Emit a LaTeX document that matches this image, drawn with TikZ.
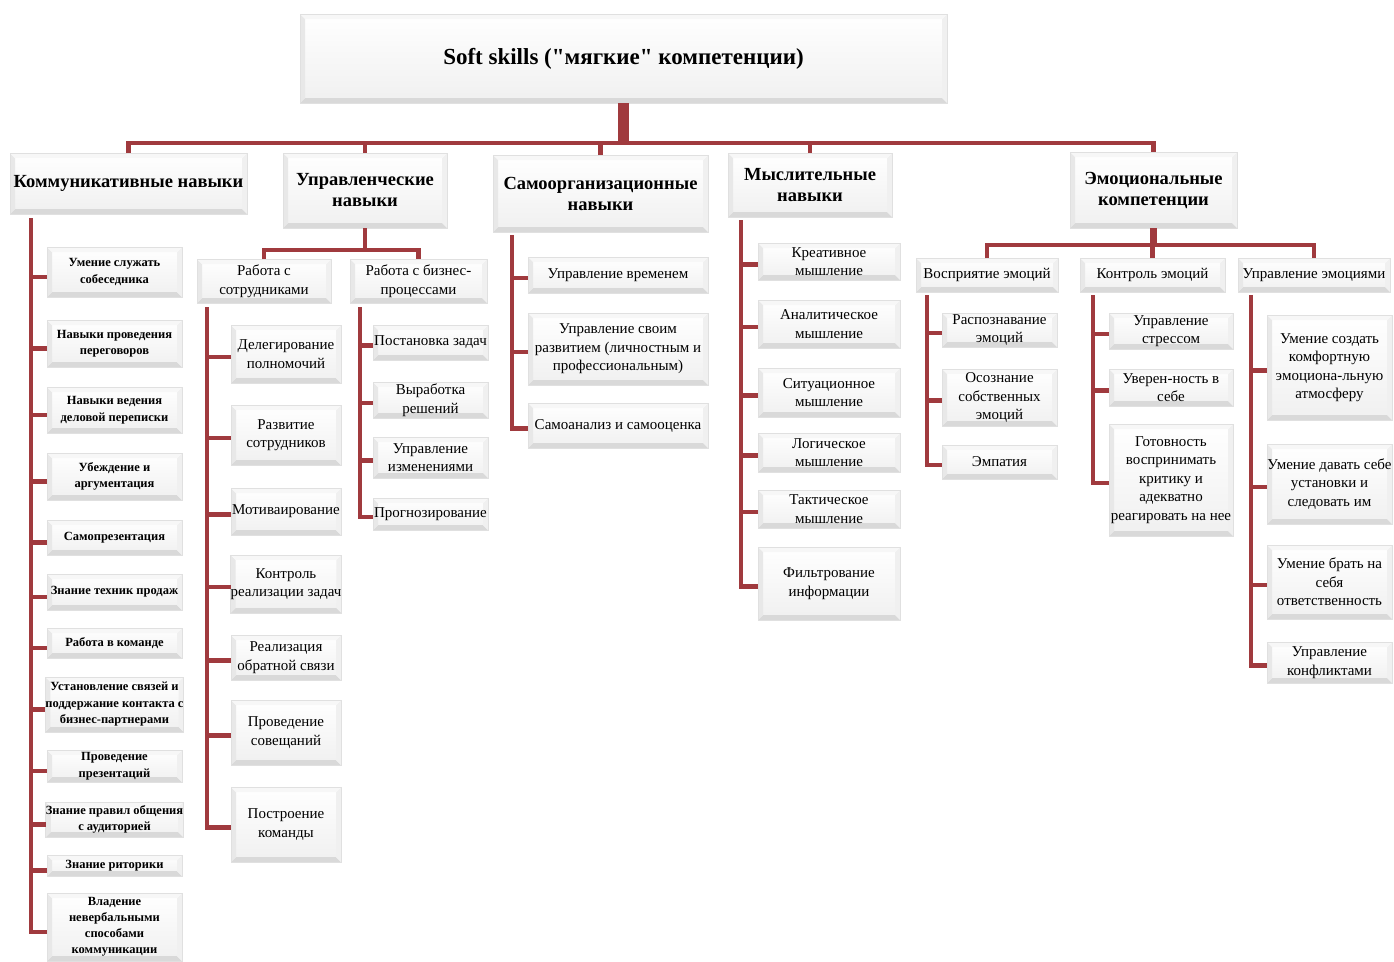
\documentclass[tikz,border=0pt]{standalone}
\usepackage{fontspec}
\setmainfont{Liberation Serif}
\usetikzlibrary{positioning}
\definecolor{bordo}{RGB}{160,58,62}
\tikzset{>=stealth}

\tikzset{
  bevel/.style={
    draw=black!12, line width=1pt,
    top color=white, bottom color=black!6,
    inner sep=0pt, outer sep=0pt, align=center,
    path picture={
      \path (path picture bounding box.south west) coordinate (bsw)
            (path picture bounding box.north east) coordinate (bne)
            (path picture bounding box.north west) coordinate (bnw)
            (path picture bounding box.south east) coordinate (bse);
      \fill[black!15] (bsw) -- (bse) -- ++(-5pt,5pt) -- ([shift={(5pt,5pt)}]bsw) -- cycle;
      \fill[black!9] (bsw) -- (bnw) -- ++(5pt,-5pt) -- ([shift={(5pt,5pt)}]bsw) -- cycle;
      \fill[black!6] (bse) -- (bne) -- ++(-5pt,-5pt) -- ([shift={(-5pt,5pt)}]bse) -- cycle;
      \fill[black!3] (bnw) -- (bne) -- ++(-5pt,-5pt) -- ([shift={(5pt,-5pt)}]bnw) -- cycle;
    }
  },
  boxsize/.style 2 args={minimum width=#1pt, minimum height=#2pt},
  titlebox/.style={bevel, font=\fontsize{23}{27}\selectfont\bfseries},
  groupbox/.style={bevel, font=\fontsize{18.5}{21}\selectfont\bfseries},
  subbox/.style={bevel, font=\fontsize{15}{18.5}\selectfont},
  commbox/.style={bevel, font=\fontsize{12.5}{16.5}\selectfont\bfseries},
  link/.style={draw=bordo, line width=4.5pt},
  trunk/.style={draw=bordo, line width=11pt}
}

\begin{document}
\begin{tikzpicture}[x=1pt, y=-1pt]
  \useasboundingbox (0,0) rectangle (1394,961);

  % top level
  \node [titlebox, boxsize={647}{89}] (title) at (623.5,58.5)
    {Soft skills (\textquotedbl мягкие\textquotedbl{} компетенции)};

  \node [groupbox, boxsize={237}{61}] (comm) at (128.5,183.5) {Коммуникативные навыки};
  \node [groupbox, boxsize={164}{75}] (manag) at (365,190.5) {Управленческие\\навыки};
  \node [groupbox, boxsize={215}{77}] (selforg) at (600.5,193.5) {Самоорганизационные\\навыки};
  \node [groupbox, boxsize={164}{64}] (think) at (810,185) {Мыслительные\\навыки};
  \node [groupbox, boxsize={167}{76}] (emo) at (1153.5,190) {Эмоциональные\\компетенции};

  \coordinate (bar) at (623.5,143);
  \draw[trunk] (title.south) -- (bar);
  \draw[link] (comm.north) |- (bar) -| (emo.north);
  \foreach \g in {manag,selforg,think}
    \draw[link] (\g.north) -- (\g.north |- bar);

  % communication
  \node [commbox, boxsize={135}{50}, anchor=north] (c1) at (114.5,247) {Умение служать\\собеседника};
  \node [commbox, boxsize={135}{47}, below=23pt of c1] (c2) {Навыки проведения\\переговоров};
  \node [commbox, boxsize={135}{46}, below=20pt of c2] (c3) {Навыки ведения\\деловой переписки};
  \node [commbox, boxsize={135}{47}, below=20pt of c3] (c4) {Убеждение и\\аргументация};
  \node [commbox, boxsize={135}{35}, below=20pt of c4] (c5) {Самопрезентация};
  \node [commbox, boxsize={135}{36}, below=19pt of c5] (c6) {Знание техник продаж};
  \node [commbox, boxsize={135}{30}, below=18pt of c6] (c7) {Работа в команде};
  \node [commbox, boxsize={135}{55}, below=19pt of c7] (c8) {Установление связей и\\поддержание контакта с\\бизнес-партнерами};
  \node [commbox, boxsize={135}{32}, below=18pt of c8] (c9) {Проведение\\презентаций};
  \node [commbox, boxsize={135}{35}, below=20pt of c9] (c10) {Знание правил общения\\с аудиторией};
  \node [commbox, boxsize={135}{21}, below=18pt of c10] (c11) {Знание риторики};
  \node [commbox, boxsize={135}{68}, below=17pt of c11,
    font=\fontsize{12.5}{16}\selectfont\bfseries] (c12) {Владение\\невербальными\\способами\\коммуникации};

  \coordinate (cL) at (31,218);
  \draw[link] (cL) |- ([yshift=-5pt]c12.west);
  \foreach \i in {1,...,11}
    \draw[link] ([yshift=-5pt]cL |- c\i.west) -- ([yshift=-5pt]c\i.west);

  % management
  \node [subbox, boxsize={134}{44}] (staff) at (264,281) {Работа с\\сотрудниками};
  \node [subbox, boxsize={137}{44}, right=19pt of staff] (proc) {Работа с бизнес-\\процессами};

  \coordinate (mbar) at (365,250);
  \draw[link] (manag.south) -- (mbar);
  \draw[link] (staff.north) |- (mbar) -| (proc.north);

  \node [subbox, boxsize={110}{58}, anchor=north] (s1) at (286,325) {Делегирование\\полномочий};
  \node [subbox, boxsize={110}{60}, below=22pt of s1] (s2) {Развитие\\сотрудников};
  \node [subbox, boxsize={110}{47}, below=23pt of s2] (s3) {Мотиваирование};
  \node [subbox, boxsize={110}{58}, below=20pt of s3] (s4) {Контроль\\реализации задач};
  \node [subbox, boxsize={110}{45}, below=22pt of s4] (s5) {Реализация\\обратной связи};
  \node [subbox, boxsize={110}{65}, below=20pt of s5] (s6) {Проведение\\совещаний};
  \node [subbox, boxsize={110}{75}, below=22pt of s6] (s7) {Построение\\команды};

  \coordinate (sL) at (207,307);
  \draw[link] (sL) |- ([yshift=-3pt]s7.west);
  \foreach \i in {1,...,6}
    \draw[link] ([yshift=-3pt]sL |- s\i.west) -- ([yshift=-3pt]s\i.west);

  \node [subbox, boxsize={115}{35}, anchor=north] (p1) at (430.5,325) {Постановка задач};
  \node [subbox, boxsize={115}{36}, below=22pt of p1] (p2) {Выработка\\решений};
  \node [subbox, boxsize={115}{41}, below=19pt of p2] (p3) {Управление\\изменениями};
  \node [subbox, boxsize={115}{32}, below=20pt of p3] (p4) {Прогнозирование};

  \coordinate (pL) at (360,307);
  \draw[link] (pL) |- ([yshift=-3pt]p4.west);
  \foreach \i in {1,...,3}
    \draw[link] ([yshift=-3pt]pL |- p\i.west) -- ([yshift=-3pt]p\i.west);

  % self-organisation
  \node [subbox, boxsize={180}{36}, anchor=north] (o1) at (618,257) {Управление временем};
  \node [subbox, boxsize={180}{72}, below=20pt of o1] (o2) {Управление своим\\развитием (личностным и\\профессиональным)};
  \node [subbox, boxsize={180}{45}, below=18pt of o2] (o3) {Самоанализ и самооценка};

  \coordinate (oL) at (512,235);
  \draw[link] (oL) |- ([yshift=-3pt]o3.west);
  \foreach \i in {1,2}
    \draw[link] ([yshift=-3pt]oL |- o\i.west) -- ([yshift=-3pt]o\i.west);

  % thinking
  \node [subbox, boxsize={142}{37}, anchor=north] (t1) at (829,243) {Креативное\\мышление};
  \node [subbox, boxsize={142}{48}, below=20pt of t1] (t2) {Аналитическое\\мышление};
  \node [subbox, boxsize={142}{49}, below=20pt of t2] (t3) {Ситуационное\\мышление};
  \node [subbox, boxsize={142}{39}, below=16pt of t3] (t4) {Логическое\\мышление};
  \node [subbox, boxsize={142}{38}, below=18pt of t4] (t5) {Тактическое\\мышление};
  \node [subbox, boxsize={142}{73}, below=19pt of t5] (t6) {Фильтрование\\информации};

  \coordinate (tL) at (741,220);
  \draw[link] (tL) |- ([yshift=-3pt]t6.west);
  \foreach \i in {1,...,5}
    \draw[link] ([yshift=-3pt]tL |- t\i.west) -- ([yshift=-3pt]t\i.west);

  % emotions
  \node [subbox, boxsize={142}{34}] (perc) at (987,275) {Восприятие эмоций};
  \node [subbox, boxsize={145}{34}, right=22pt of perc] (ctrl) {Контроль эмоций};
  \node [subbox, boxsize={152}{34}, right=13pt of ctrl] (mng) {Управление эмоциями};

  \coordinate (ebar) at (1153.5,245);
  \draw[link, line width=7pt] (emo.south) -- (ebar);
  \draw[link] (perc.north) |- (ebar) -| (mng.north);
  \draw[link] (ctrl.north) -- (ctrl.north |- ebar);

  \node [subbox, boxsize={115}{34}, anchor=north] (r1) at (999.5,313) {Распознавание\\эмоций};
  \node [subbox, boxsize={115}{57}, below=22pt of r1] (r2) {Осознание\\собственных\\эмоций};
  \node [subbox, boxsize={115}{34}, below=19pt of r2] (r3) {Эмпатия};

  \coordinate (rL) at (927,295);
  \draw[link] (rL) |- ([yshift=-3pt]r3.west);
  \foreach \i in {1,2}
    \draw[link] ([yshift=-3pt]rL |- r\i.west) -- ([yshift=-3pt]r\i.west);

  \node [subbox, boxsize={124}{36}, anchor=north] (k1) at (1171,313) {Управление\\стрессом};
  \node [subbox, boxsize={124}{37}, below=20pt of k1] (k2) {Уверен-ность в\\себе};
  \node [subbox, boxsize={124}{112}, below=18pt of k2] (k3) {Готовность\\воспринимать\\критику и\\адекватно\\реагировать на нее};

  \coordinate (kL) at (1093,295);
  \draw[link] (kL) |- ([yshift=-3pt]k3.west);
  \foreach \i in {1,2}
    \draw[link] ([yshift=-3pt]kL |- k\i.west) -- ([yshift=-3pt]k\i.west);

  \node [subbox, boxsize={125}{105}, anchor=north] (u1) at (1329.5,315) {Умение создать\\комфортную\\эмоциона-льную\\атмосферу};
  \node [subbox, boxsize={125}{80}, below=24pt of u1] (u2) {Умение давать себе\\установки и\\следовать им};
  \node [subbox, boxsize={125}{74}, below=21pt of u2] (u3) {Умение брать на\\себя\\ответственность};
  \node [subbox, boxsize={125}{41}, below=23pt of u3] (u4) {Управление\\конфликтами};

  \coordinate (uL) at (1251,295);
  \draw[link] (uL) |- ([yshift=-3pt]u4.west);
  \foreach \i in {1,...,3}
    \draw[link] ([yshift=-3pt]uL |- u\i.west) -- ([yshift=-3pt]u\i.west);
\end{tikzpicture}
\end{document}
